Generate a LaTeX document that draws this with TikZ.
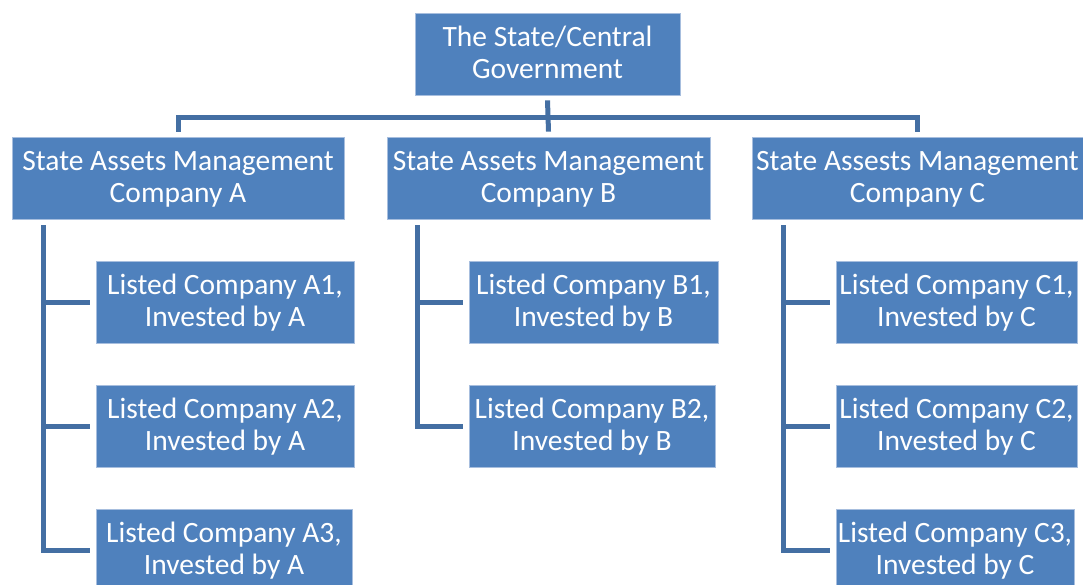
\documentclass[tikz,border=0pt]{standalone}
\usepackage{fontspec}
\setmainfont{Carlito}
\definecolor{boxblue}{RGB}{79,129,189}
\definecolor{lineblue}{RGB}{68,111,163}
\definecolor{edgeblue}{RGB}{167,190,222}
\tikzset{
  orgbox/.style={rectangle, fill=boxblue, draw=edgeblue, line width=0.8pt,
    text=white, align=center, inner sep=0pt,
    font=\fontsize{29.5}{32.5}\selectfont, text height=55pt, text depth=5.6pt,
    minimum height=82pt},
  conn/.style={draw=lineblue, line width=5pt, line join=miter}
}
\begin{document}
\begin{tikzpicture}[x=1pt,y=-1pt]
\useasboundingbox (0,0) rectangle (1083,584);
\begin{scope}
\clip (0,0) rectangle (1083,584);
% top
\node[orgbox, minimum width=265pt] (top) at (547.5,54) {The State/Central\\Government};
% management companies
\node[orgbox, minimum width=332pt] (mA) at (178,178) {State Assets Management\\Company A};
\node[orgbox, minimum width=323pt] (mB) at (548.5,178) {State Assets Management\\Company B};
\node[orgbox, minimum width=331pt] (mC) at (917.5,178) {State Assests Management\\Company C};
% listed companies
\node[orgbox, minimum width=258pt] (A1) at (225,302) {Listed Company A1,\\Invested by A};
\node[orgbox, minimum width=258pt] (A2) at (225,426) {Listed Company A2,\\Invested by A};
\node[orgbox, minimum width=256pt] (A3) at (224,550) {Listed Company A3,\\Invested by A};
\node[orgbox, minimum width=249pt] (B1) at (593.5,302) {Listed Company B1,\\Invested by B};
\node[orgbox, minimum width=246pt] (B2) at (592,426) {Listed Company B2,\\Invested by B};
\node[orgbox, minimum width=241pt] (C1) at (956.5,302) {Listed Company C1,\\Invested by C};
\node[orgbox, minimum width=241pt] (C2) at (956.5,426) {Listed Company C2,\\Invested by C};
\node[orgbox, minimum width=238pt] (C3) at (955,550) {Listed Company C3,\\Invested by C};
% top connectors
\coordinate (bus) at (548,117);
\draw[conn] ([yshift=-5pt]top.south) -- ([yshift=5pt]mB.north);
\draw[conn] ([yshift=5pt]mA.north) |- (bus) -| ([yshift=5pt]mC.north);
% A branch
\coordinate (aTop) at (43,225);
\draw[conn] (aTop) |- ([xshift=-6pt]A3.west);
\draw[conn] (aTop |- A1.west) -- ([xshift=-6pt]A1.west);
\draw[conn] (aTop |- A2.west) -- ([xshift=-6pt]A2.west);
% B branch
\coordinate (bTop) at (417,225);
\draw[conn] (bTop) |- ([xshift=-6pt]B2.west);
\draw[conn] (bTop |- B1.west) -- ([xshift=-6pt]B1.west);
% C branch
\coordinate (cTop) at (783,225);
\draw[conn] (cTop) |- ([xshift=-6pt]C3.west);
\draw[conn] (cTop |- C1.west) -- ([xshift=-6pt]C1.west);
\draw[conn] (cTop |- C2.west) -- ([xshift=-6pt]C2.west);
\end{scope}
\end{tikzpicture}
\end{document}
